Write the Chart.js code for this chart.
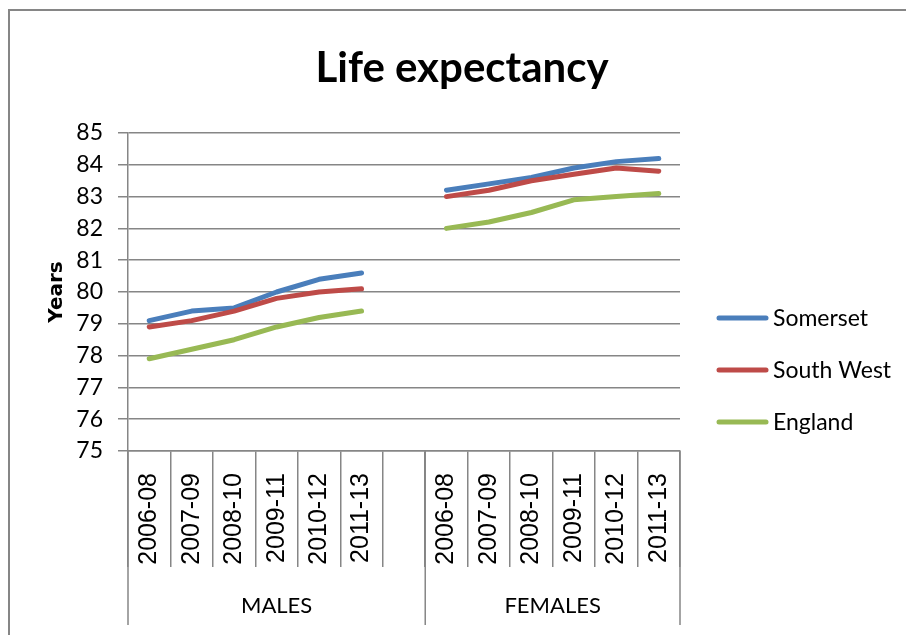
<!DOCTYPE html>
<html>
<head>
<meta charset="utf-8">
<title>Life expectancy</title>
<script src="https://cdn.jsdelivr.net/npm/chart.js@4.4.1/dist/chart.umd.min.js"></script>
<style>
  body { margin: 0; background: #fff; }
  #wrap { width: 906px; height: 635px; }
</style>
</head>
<body>
<div id="wrap"><canvas id="lifeChart" width="906" height="635"></canvas></div>
<script>
// Chart data
const chartTitle = 'Life expectancy';
const periods = ['2006-08', '2007-09', '2008-10', '2009-11', '2010-12', '2011-13'];
const groups = ['MALES', 'FEMALES'];
const seriesNames = ['Somerset', 'South West', 'England'];

const somersetMales = [79.1, 79.4, 79.5, 80.0, 80.4, 80.6];
const southWestMales = [78.9, 79.1, 79.4, 79.8, 80.0, 80.1];
const englandMales = [77.9, 78.2, 78.5, 78.9, 79.2, 79.4];

const somersetFemales = [83.2, 83.4, 83.6, 83.9, 84.1, 84.2];
const southWestFemales = [83.0, 83.2, 83.5, 83.7, 83.9, 83.8];
const englandFemales = [82.0, 82.2, 82.5, 82.9, 83.0, 83.1];

const yTicks = [75, 76, 77, 78, 79, 80, 81, 82, 83, 84, 85];

// males, an empty slot, then females
const labels = periods.concat([''], periods);
const join = (m, f) => m.concat([null], f);

const colors = ['#4a7ebb', '#be4b48', '#98b954'];
const gridColor = '#868686';

// outer frame of the chart, cut off on the right and bottom like the original
const framePlugin = {
    id: 'frame',
    beforeDraw(chart) {
        const c = chart.ctx;
        c.save();
        c.fillStyle = '#fff';
        c.fillRect(0, 0, chart.width, chart.height);
        c.strokeStyle = gridColor;
        c.lineWidth = 2;
        c.strokeRect(9, 10, chart.width + 50, chart.height + 50);
        c.restore();
    }
};

// title, second level of the category axis (MALES / FEMALES) and the legend
const groupAxisPlugin = {
    id: 'groupAxis',
    afterDraw(chart) {
        const c = chart.ctx;
        const x = chart.scales.x;
        c.save();

        // title is centred on the whole chart, not only the plot area
        c.fillStyle = '#000';
        c.font = 'bold 42px Lato';
        c.textAlign = 'center';
        c.textBaseline = 'middle';
        c.fillText(chartTitle, 462, 68);

        const gap = labels.indexOf('');
        const edges = [-0.5, gap + 0.5, labels.length - 0.5].map(v => x.getPixelForValue(v));
        c.strokeStyle = gridColor;
        c.lineWidth = 1.5;
        edges.forEach(px => {
            c.beginPath();
            c.moveTo(px, x.top);
            c.lineTo(px, x.bottom);
            c.stroke();
        });
        c.font = '22px Lato';
        groups.forEach((g, i) => {
            c.fillText(g, (edges[i] + edges[i + 1]) / 2, x.bottom - 19);
        });

        // legend
        const lx = chart.chartArea.right + 37;
        chart.data.datasets.forEach((ds, i) => {
            const ly = 318 + i * 52;
            c.strokeStyle = ds.borderColor;
            c.lineWidth = 5;
            c.lineCap = 'round';
            c.beginPath();
            c.moveTo(lx + 2, ly);
            c.lineTo(lx + 49, ly);
            c.stroke();
            c.fillStyle = '#000';
            c.font = '23px Lato';
            c.textAlign = 'left';
            c.fillText(ds.label, lx + 56, ly + 1);
        });
        c.restore();
    }
};

const ctx = document.getElementById('lifeChart').getContext('2d');

const lifeChart = new Chart(ctx, {
    type: 'line',
    data: {
        labels: labels,
        datasets: [
            { label: seriesNames[0], data: join(somersetMales, somersetFemales), borderColor: colors[0], order: 3 },
            { label: seriesNames[1], data: join(southWestMales, southWestFemales), borderColor: colors[1], order: 2 },
            { label: seriesNames[2], data: join(englandMales, englandFemales), borderColor: colors[2], order: 1 }
        ]
    },
    options: {
        responsive: false,
        animation: false,
        spanGaps: false,
        elements: {
            line: { borderWidth: 5, tension: 0, borderCapStyle: 'round', borderJoinStyle: 'round' },
            point: { radius: 0, hoverRadius: 0 }
        },
        layout: {
            padding: { top: 133, right: 226, bottom: 10, left: 0 }
        },
        plugins: {
            legend: { display: false },
            tooltip: { enabled: false },
            title: { display: false }
        },
        scales: {
            x: {
                type: 'category',
                offset: true,
                afterFit(scale) { scale.height = 174; },
                grid: {
                    offset: true,
                    drawOnChartArea: false,
                    drawTicks: true,
                    tickLength: 116,
                    color: gridColor,
                    lineWidth: 1.5
                },
                border: { display: true, color: gridColor, width: 1.5 },
                ticks: {
                    autoSkip: false,
                    minRotation: 90,
                    maxRotation: 90,
                    padding: -94,
                    color: '#000',
                    font: { family: 'Liberation Sans', size: 25 }
                }
            },
            y: {
                min: yTicks[0],
                max: yTicks[yTicks.length - 1],
                afterFit(scale) { scale.width = 128; },
                afterBuildTicks(scale) { scale.ticks = yTicks.map(v => ({ value: v })); },
                grid: {
                    color: gridColor,
                    lineWidth: 1.5,
                    tickLength: 10
                },
                border: { display: true, color: gridColor, width: 1.5 },
                ticks: {
                    padding: 15,
                    color: '#000',
                    font: { family: 'Lato', size: 23 }
                },
                title: {
                    display: true,
                    text: 'Years',
                    color: '#000',
                    font: { family: 'DejaVu Sans', size: 20, weight: 'bold' },
                    padding: { top: 45, bottom: 0 }
                }
            }
        }
    },
    plugins: [framePlugin, groupAxisPlugin]
});
</script>
</body>
</html>
